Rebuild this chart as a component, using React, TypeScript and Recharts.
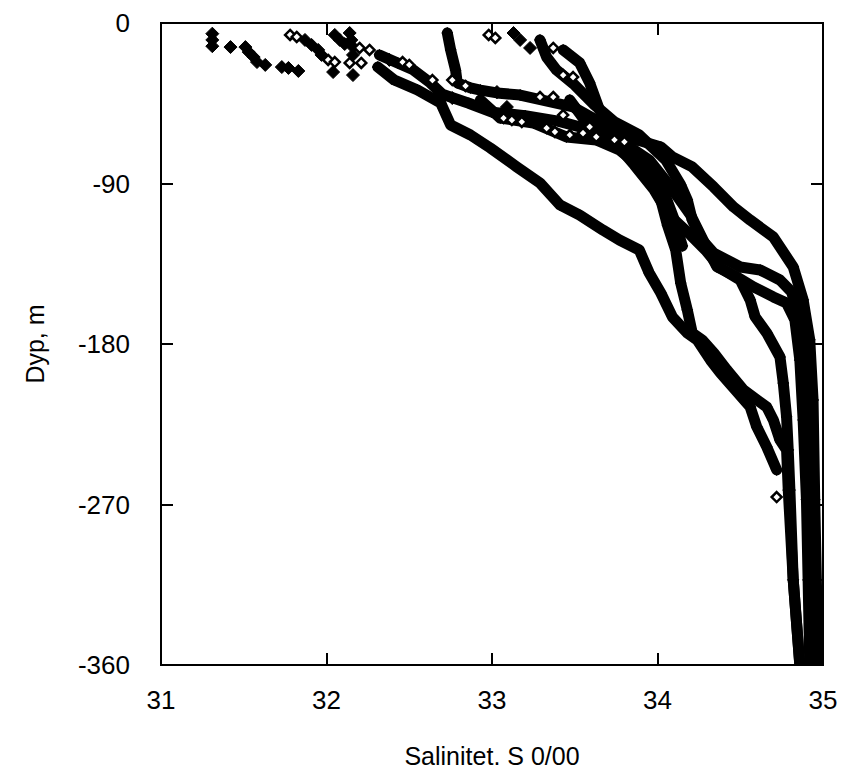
import { ScatterChart, Scatter, XAxis, YAxis } from "recharts";

const salinityTicks = [31, 32, 33, 34, 35];
const depthTicks = [-360, -270, -180, -90, 0];

// [salinity, depth]
const profile1 = [
  [32.31, -24.7], [32.41, -32], [32.55, -37.6], [32.69, -44.9], [32.75, -57.2], [32.87, -62.8],
  [32.99, -70.1], [33.15, -80.7], [33.29, -89.7], [33.41, -102], [33.53, -107.7], [33.67, -116.1],
  [33.77, -121.7], [33.89, -127.3], [33.95, -140.2], [34.02, -151.4], [34.09, -164.8], [34.18, -173.8],
  [34.24, -177.7], [34.32, -189], [34.38, -196.2], [34.47, -205.8], [34.56, -215.3], [34.6, -226.5],
  [34.66, -237.7], [34.72, -250.6],
];

const profile2 = [
  [32.93, -43.2], [33.05, -53.3], [33.25, -56.1], [33.45, -63.9], [33.63, -65.6], [33.77, -71.2],
  [33.92, -82.4], [34.02, -99.2], [34.06, -113.3], [34.11, -127.3], [34.14, -145.8], [34.18, -160.9],
  [34.21, -173.8], [34.27, -177.7], [34.34, -185], [34.42, -194.6], [34.52, -205.8], [34.66, -215.3],
  [34.7, -222.6], [34.74, -233.8], [34.78, -239.4], [34.79, -261.9], [34.82, -312.3], [34.86, -360],
];

const profile3 = [
  [33.43, -15.1], [33.53, -22.4], [33.59, -33.6], [33.65, -48.8], [33.79, -63.9], [33.88, -65.6],
  [34.02, -69.5], [34.09, -75.1], [34.21, -80.7], [34.34, -92], [34.46, -103.2], [34.56, -110.5],
  [34.7, -120], [34.82, -136.8], [34.88, -155.3], [34.92, -177.7], [34.94, -211.4], [34.95, -267.4],
  [34.96, -312.3], [34.97, -360],
];

const profile4 = [
  [33.29, -9.5], [33.33, -19.1], [33.39, -26.4], [33.5, -34.8], [33.62, -46], [33.74, -55.5],
  [33.89, -62.8], [34.05, -76.8], [34.14, -90.8], [34.18, -99.2], [34.21, -110.5], [34.27, -121.7],
  [34.34, -129], [34.5, -136.8], [34.62, -138.5], [34.74, -144.1], [34.81, -150.8], [34.86, -166.5],
  [34.9, -200.2], [34.92, -256.2], [34.93, -312.3], [34.94, -360],
];

const profile5 = [
  [33.47, -43.2], [33.59, -58.3], [33.77, -65.6], [33.95, -76.8], [34.07, -90.8], [34.2, -107.7],
  [34.29, -124.5], [34.36, -136.8], [34.48, -142.4], [34.58, -148], [34.7, -153.6], [34.78, -157],
  [34.83, -166.5], [34.86, -189], [34.88, -222.6], [34.9, -267.4], [34.91, -312.3], [34.92, -360],
];

const profile6 = [
  [32.73, -5.6], [32.75, -15.1], [32.78, -26.4], [32.79, -33.6], [32.87, -36.4], [32.93, -37.6],
  [33.03, -39.2], [33.17, -40.4], [33.49, -47.1], [33.63, -54.4], [33.73, -65.6], [33.86, -79.6],
  [33.98, -93.6], [34.07, -107.7], [34.2, -118.9], [34.29, -127.3], [34.38, -137.4], [34.5, -144.1],
  [34.56, -155.3], [34.59, -164.8], [34.66, -173.8], [34.74, -187.3], [34.76, -201.9], [34.78, -220.9],
  [34.79, -239.4], [34.8, -261.9], [34.82, -312.3], [34.86, -360],
];

const profile7 = [
  [32.32, -17.9], [32.43, -22.4], [32.52, -26], [32.62, -33], [32.7, -40], [32.86, -45],
  [33.0, -50], [33.2, -52], [33.4, -55], [33.6, -60], [33.8, -68], [33.96, -80],
  [34.04, -95], [34.1, -110], [34.15, -125],
];

const surfaceFilled = [
  [31.31, -6], [31.31, -9.5], [31.31, -13], [31.42, -13.5], [31.51, -13.5], [31.53, -16.3],
  [31.56, -19.1], [31.58, -21.9], [31.63, -23.5], [31.73, -24.7], [31.77, -25.2], [31.83, -26.9],
  [32.04, -27.5], [32.16, -29.2], [32.05, -6.7], [32.08, -9.5], [32.11, -11.8], [32.14, -5.6],
  [32.15, -9.5], [32.16, -13.5], [32.16, -17.9], [31.87, -9.5], [31.91, -12.3], [31.95, -15.1],
  [31.97, -17.9], [32.38, -20.7], [32.76, -42.1], [33.03, -38.7],
  [33.09, -47.1], [33.13, -5.6], [33.17, -9.5], [33.23, -14],
];

const surfaceOpen = [
  [31.78, -6.7], [31.82, -7.8], [32.01, -20.7], [32.05, -21.9], [32.2, -14], [32.26, -15.1],
  [32.46, -21.9], [32.5, -23.5], [32.14, -22.4], [32.21, -22.4], [32.64, -32], [32.76, -32],
  [32.84, -35.3], [32.98, -6.7], [33.02, -8.4], [33.07, -53.3], [33.12, -54.4], [33.18, -55.5],
  [33.33, -58.9], [33.38, -61.1], [33.47, -62.8], [33.29, -41.5], [33.37, -41.5], [33.43, -51.6],
  [33.59, -58.3], [33.63, -63.9], [33.37, -14], [33.43, -29.2], [33.49, -30.3], [33.74, -65.6],
  [33.8, -66.7], [33.55, -61.7], [34.72, -265.8],
];

const profiles = [profile1, profile2, profile3, profile4, profile5, profile6, profile7];

const toPoints = (arr: number[][]) => arr.map(([s, d]) => ({ s, d }));

const diamond = (r: number, fill: string, sw: number) => (props: any) => {
  const { cx, cy } = props;
  return (
    <path
      d={`M${cx},${cy - r}L${cx + r},${cy}L${cx},${cy + r}L${cx - r},${cy}Z`}
      fill={fill}
      stroke="#000"
      strokeWidth={sw}
    />
  );
};

const font = "'Liberation Sans', Arial, Helvetica, sans-serif";
const tickStyle = { fill: "#000", fontSize: 26, fontFamily: font };
const axisLine = { stroke: "#000", strokeWidth: 2 };

const sMin = 31;
const sMax = 35;
const dMin = -360;
const dMax = 0;

// chart box
const W = 838;
const H = 770;
const margin = { top: 14, right: 22, bottom: 0, left: 0 };
const yAxisWidth = 153;
const xAxisHeight = 113;
const plot = {
  left: margin.left + yAxisWidth,
  top: margin.top + 1,
  width: W - margin.left - margin.right - yAxisWidth - 1,
  height: H - margin.top - margin.bottom - xAxisHeight - 1,
};
const tickLen = 12;
const sx = (s: number) => plot.left + ((s - sMin) / (sMax - sMin)) * plot.width;
const sy = (d: number) => plot.top + ((dMax - d) / (dMax - dMin)) * plot.height;

// frame with inward ticks on all four sides
const Frame = () => {
  const tick = (style: any, key: string) => (
    <div key={key} style={{ position: "absolute", background: "#000", ...style }} />
  );
  const inS = salinityTicks.slice(1, -1);
  const inD = depthTicks.slice(1, -1);
  return (
    <div style={{ position: "absolute", left: 0, top: 0, width: W, height: H, pointerEvents: "none" }}>
      <div
        style={{
          position: "absolute",
          left: plot.left - 1,
          top: plot.top - 1,
          width: plot.width + 2,
          height: plot.height + 2,
          border: "2px solid #000",
          boxSizing: "border-box",
        }}
      />
      {inS.map((s) => tick({ left: sx(s) - 1, top: plot.top + plot.height - tickLen, width: 2, height: tickLen }, `b${s}`))}
      {inS.map((s) => tick({ left: sx(s) - 1, top: plot.top, width: 2, height: tickLen }, `t${s}`))}
      {inD.map((d) => tick({ left: plot.left, top: sy(d) - 1, width: tickLen, height: 2 }, `l${d}`))}
      {inD.map((d) => tick({ left: plot.left + plot.width - tickLen, top: sy(d) - 1, width: tickLen, height: 2 }, `r${d}`))}
    </div>
  );
};

const App = () => {
  return (
    <div style={{ position: "relative", width: W, height: H, background: "#fff" }}>
      <ScatterChart width={W} height={H} margin={margin}>
        <XAxis
          type="number"
          dataKey="s"
          domain={[sMin, sMax]}
          ticks={salinityTicks}
          allowDataOverflow
          height={xAxisHeight}
          tickSize={0}
          tickMargin={26}
          axisLine={axisLine}
          tickLine={false}
          tick={tickStyle}
          label={(props: any) => {
            const vb = props.viewBox;
            return (
              <text
                x={vb.x + vb.width / 2}
                y={vb.y + 100}
                textAnchor="middle"
                fontSize={25}
                fontFamily={font}
                fill="#000"
              >
                Salinitet. S 0/00
              </text>
            );
          }}
        />
        <XAxis
          xAxisId="top"
          orientation="top"
          type="number"
          domain={[sMin, sMax]}
          ticks={salinityTicks}
          allowDataOverflow
          height={1}
          tick={false}
          tickLine={false}
          axisLine={axisLine}
        />
        <YAxis
          type="number"
          dataKey="d"
          domain={[dMin, dMax]}
          ticks={depthTicks}
          allowDataOverflow
          width={yAxisWidth}
          tickSize={0}
          tickMargin={31}
          axisLine={axisLine}
          tickLine={false}
          tick={tickStyle}
          label={(props: any) => {
            const vb = props.viewBox;
            const x = vb.x + 27;
            const y = vb.y + vb.height / 2;
            return (
              <text
                x={x}
                y={y}
                transform={`rotate(-90 ${x} ${y})`}
                textAnchor="middle"
                dominantBaseline="central"
                fontSize={25}
                fontFamily={font}
                fill="#000"
              >
                Dyp, m
              </text>
            );
          }}
        />
        <YAxis
          yAxisId="right"
          orientation="right"
          type="number"
          domain={[dMin, dMax]}
          ticks={depthTicks}
          allowDataOverflow
          width={1}
          tick={false}
          tickLine={false}
          axisLine={axisLine}
        />
        {profiles.map((p, i) => (
          <Scatter
            key={i}
            data={toPoints(p)}
            fill="#000"
            line={{ stroke: "#000", strokeWidth: 11, strokeLinejoin: "round", strokeLinecap: "round" }}
            lineType="joint"
            shape={diamond(5.5, "#000", 1)}
            isAnimationActive={false}
          />
        ))}
        <Scatter data={toPoints(surfaceFilled)} fill="#000" shape={diamond(6.5, "#000", 1)} isAnimationActive={false} />
        <Scatter data={toPoints(surfaceOpen)} fill="#fff" shape={diamond(5, "#fff", 2.5)} isAnimationActive={false} />
      </ScatterChart>
      <Frame />
    </div>
  );
};

export default App;
